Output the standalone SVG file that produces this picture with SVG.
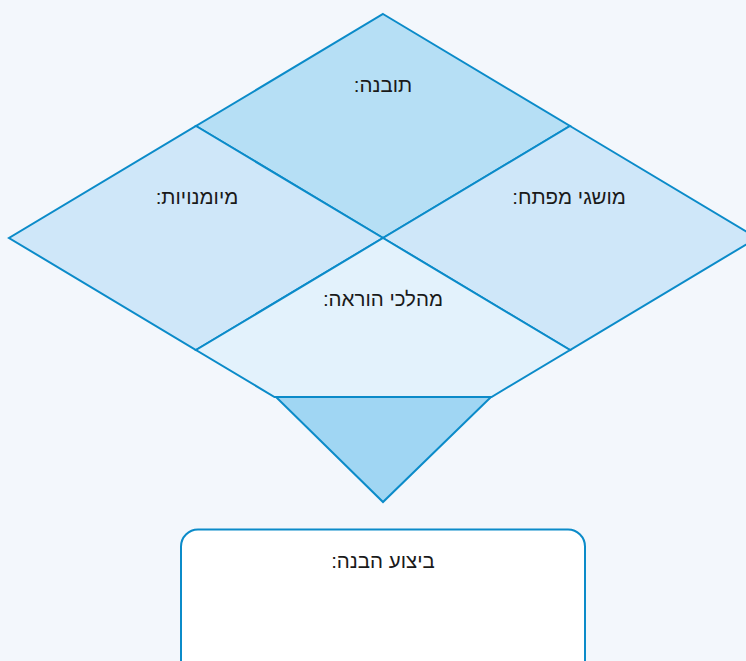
<svg xmlns="http://www.w3.org/2000/svg" width="746" height="661" viewBox="0 0 746 661">
<style>
.shape{stroke:#0b8bc9;stroke-width:2;stroke-linejoin:miter}
.lbl{font-family:"Liberation Sans","DejaVu Sans",sans-serif;font-size:20.5px;fill:#1a1a1a;text-anchor:middle;direction:rtl}
</style>
<rect width="746" height="661" fill="#f3f7fc"/>
<g id="top"><polygon class="shape" fill="#b6dff5" points="383,14 570,126 383,238 196,126"/><text class="lbl" x="383" y="92">תובנה:</text></g>
<g id="left"><polygon class="shape" fill="#cfe7f9" points="196,126 383,238 196,350 9,238"/><text class="lbl" x="197" y="204">מיומנויות:</text></g>
<g id="right"><polygon class="shape" fill="#cfe7f9" points="570,126 757,238 570,350 383,238"/><text class="lbl" x="569" y="204">מושגי מפתח:</text></g>
<g id="bottom"><polygon class="shape" fill="#e3f2fc" points="383,238 570,350 491.5,397 274.5,397 196,350"/><text class="lbl" x="383" y="306">מהלכי הוראה:</text></g>
<g id="triangle"><polygon class="shape" fill="#a0d6f3" points="276,397 491,397 383,502"/></g>
<g id="box"><rect class="shape" fill="#ffffff" x="181" y="529.5" width="404" height="150" rx="17"/><text class="lbl" x="383" y="568">ביצוע הבנה:</text></g>
<g id="connectors"></g>
</svg>
